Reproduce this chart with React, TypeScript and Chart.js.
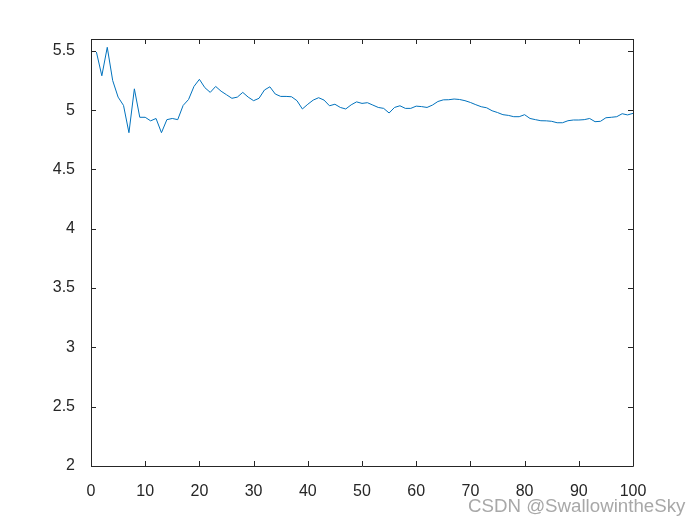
import React, { useEffect, useRef } from "react";
import { Chart, registerables } from "chart.js";

Chart.register(...registerables);

const xValues: number[] = Array.from({ length: 100 }, (_, i) => i + 1);
const yValues: number[] = [
  5.49, 5.29, 5.53, 5.25, 5.11, 5.04, 4.81, 5.18, 4.94, 4.94,
  4.91, 4.93, 4.81, 4.92, 4.93, 4.92, 5.04, 5.09, 5.2, 5.26,
  5.19, 5.15, 5.2, 5.16, 5.13, 5.1, 5.11, 5.15, 5.11, 5.08,
  5.1, 5.17, 5.197, 5.136, 5.116, 5.116, 5.113, 5.08, 5.01, 5.05,
  5.085, 5.105, 5.085, 5.037, 5.05, 5.023, 5.01, 5.045, 5.07, 5.057,
  5.063, 5.043, 5.023, 5.015, 4.976, 5.023, 5.037, 5.015, 5.015, 5.034,
  5.03, 5.023, 5.043, 5.073, 5.087, 5.088, 5.094, 5.09, 5.08, 5.065,
  5.046, 5.029, 5.02, 4.995, 4.98, 4.962, 4.956, 4.945, 4.945, 4.962,
  4.93, 4.92, 4.911, 4.91, 4.906, 4.894, 4.894, 4.911, 4.917, 4.917,
  4.92, 4.93, 4.903, 4.906, 4.936, 4.94, 4.945, 4.97, 4.96, 4.973,
];
const xTicks: number[] = [0, 10, 20, 30, 40, 50, 60, 70, 80, 90, 100];
const yTicks: number[] = [2, 2.5, 3, 3.5, 4, 4.5, 5, 5.5];

const AXIS_COLOR = "#262626";
const FONT = "Liberation Sans, Arial, sans-serif";

const boxPlugin = {
  id: "matlabBox",
  afterDraw(chart: any) {
    const { ctx, chartArea } = chart;
    const { left, right, top, bottom } = chartArea;
    const xs = chart.scales.x;
    const ys = chart.scales.y;
    const len = 5;
    ctx.save();
    ctx.strokeStyle = AXIS_COLOR;
    ctx.lineWidth = 1;
    ctx.beginPath();
    ctx.rect(Math.round(left) + 0.5, Math.round(top) + 0.5, Math.round(right - left), Math.round(bottom - top));
    for (const t of xTicks) {
      const px = Math.round(xs.getPixelForValue(t)) + 0.5;
      ctx.moveTo(px, bottom);
      ctx.lineTo(px, bottom - len);
      ctx.moveTo(px, top);
      ctx.lineTo(px, top + len);
    }
    for (const t of yTicks) {
      const py = Math.round(ys.getPixelForValue(t)) + 0.5;
      ctx.moveTo(left, py);
      ctx.lineTo(left + len, py);
      ctx.moveTo(right, py);
      ctx.lineTo(right - len, py);
    }
    ctx.stroke();
    ctx.restore();
  },
};

export default function App() {
  const canvasRef = useRef<HTMLCanvasElement | null>(null);

  useEffect(() => {
    const canvas = canvasRef.current;
    if (!canvas) return;
    const chart = new Chart(canvas, {
      type: "line",
      data: {
        datasets: [
          {
            data: xValues.map((x, i) => ({ x, y: yValues[i] })),
            borderColor: "#0072BD",
            borderWidth: 1,
            pointRadius: 0,
            tension: 0,
            fill: false,
          },
        ],
      },
      options: {
        animation: false,
        responsive: false,
        maintainAspectRatio: false,
        layout: { padding: { left: 0, right: 67, top: 39, bottom: 0 } },
        plugins: {
          legend: { display: false },
          tooltip: { enabled: false },
          title: { display: false },
        },
        scales: {
          x: {
            type: "linear",
            min: 0,
            max: 100,
            afterBuildTicks: (scale: any) => {
              scale.ticks = xTicks.map((v) => ({ value: v }));
            },
            afterFit: (scale: any) => {
              scale.height = 59;
            },
            grid: { display: false },
            border: { display: false },
            ticks: {
              color: AXIS_COLOR,
              font: { family: FONT, size: 16 },
              padding: 8,
              maxRotation: 0,
              autoSkip: false,
              callback: (v: any) => String(v),
            },
          },
          y: {
            type: "linear",
            min: 2,
            max: 5.6,
            afterBuildTicks: (scale: any) => {
              scale.ticks = yTicks.map((v) => ({ value: v }));
            },
            afterFit: (scale: any) => {
              scale.width = 91;
            },
            grid: { display: false },
            border: { display: false },
            ticks: {
              color: AXIS_COLOR,
              font: { family: FONT, size: 16 },
              padding: 8,
              autoSkip: false,
              callback: (v: any) => String(v),
            },
          },
        },
      },
      plugins: [boxPlugin],
    });
    return () => chart.destroy();
  }, []);

  return (
    <div style={{ position: "fixed", left: 0, top: 0, width: 700, height: 525, background: "#fff" }}>
      <canvas ref={canvasRef} width={700} height={525} style={{ width: 700, height: 525 }} />
      <div
        style={{
          position: "absolute",
          left: 468,
          top: 495,
          fontFamily: FONT,
          fontSize: 18.7,
          color: "#a8a8a8",
          whiteSpace: "nowrap",
        }}
      >
        CSDN @SwallowintheSky
      </div>
    </div>
  );
}
